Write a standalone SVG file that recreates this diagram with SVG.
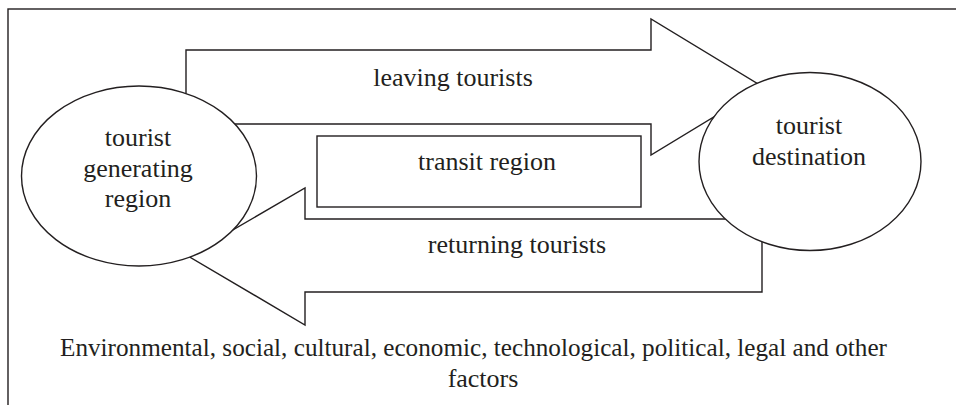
<svg xmlns="http://www.w3.org/2000/svg" width="956" height="405" viewBox="0 0 956 405">
<style>
.ln{fill:none;stroke:#231f20;stroke-width:1.4}
.sh{fill:#ffffff;stroke:#231f20;stroke-width:1.4}
text{font-family:'Liberation Serif','Times New Roman',serif;font-size:26px;fill:#231f20;text-anchor:middle}
</style>
<rect width="956" height="405" fill="#ffffff"/>
<rect class="ln" x="8" y="9" width="960" height="410"/>
<g id="connectors">
<path id="leaving" class="sh" d="M186,50 L651,50 L651,19 L763,87 L651,155 L651,124 L186,124 Z"/>
<path id="returning" class="sh" d="M762,219 L305,219 L305,188 L188,256 L305,325 L305,292 L762,292 Z"/>
<text x="453" y="86">leaving tourists</text>
<text x="517" y="253">returning tourists</text>
</g>
<g id="transit">
<rect class="sh" x="317" y="136" width="324" height="71"/>
<text x="487" y="170">transit region</text>
</g>
<g id="generating">
<ellipse class="sh" cx="139" cy="176" rx="117.5" ry="90"/>
<text x="138" y="146">tourist</text>
<text x="138" y="177">generating</text>
<text x="138" y="207">region</text>
</g>
<g id="destination">
<ellipse class="sh" cx="810" cy="161.5" rx="111" ry="89"/>
<text x="809" y="134">tourist</text>
<text x="809" y="165">destination</text>
</g>
<g id="factors">
<text x="473.5" y="356" textLength="827" lengthAdjust="spacingAndGlyphs">Environmental, social, cultural, economic, technological, political, legal and other</text>
<text x="483" y="387">factors</text>
</g>
</svg>
